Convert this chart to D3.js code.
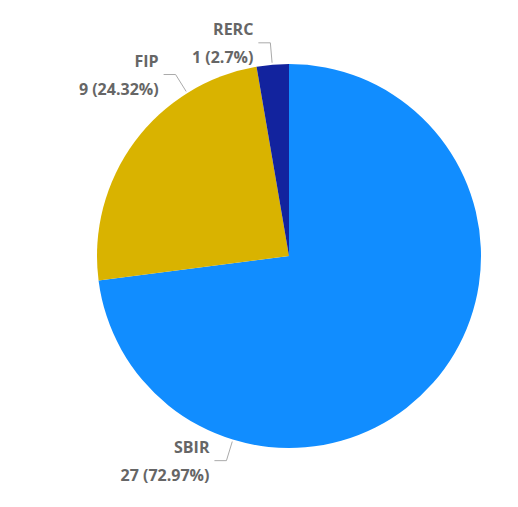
<!DOCTYPE html>
<html><head><meta charset="utf-8">
<script src="https://cdn.jsdelivr.net/npm/d3@7"></script>
<style>body{margin:0;background:#fff}</style>
</head><body><svg id="chart" width="518" height="507"></svg>
<script>
// data
var categories = ["SBIR", "FIP", "RERC"];
var counts = [27, 9, 1];
var percents = ["72.97%", "24.32%", "2.7%"];
var colors = ["#118DFF", "#D9B300", "#12239E"];
// leader anchor angle (degrees clockwise from top), chosen to avoid overlap
var labelAngles = [197, 328, 355];

var svg = d3.select("#chart");
var cx = 289, cy = 256, r = 192;
var g = svg.append("g").attr("transform", "translate(" + cx + "," + cy + ")");

var pie = d3.pie().sort(null).value(function(d){ return d; });
var arc = d3.arc().innerRadius(0).outerRadius(r);
var arcs = pie(counts);

g.selectAll("path.slice").data(arcs).enter().append("path")
    .attr("class", "slice")
    .attr("d", arc)
    .attr("fill", function(d, i){ return colors[i]; });

// labels with leader lines
arcs.forEach(function(d, i){
    var a = labelAngles[i] * Math.PI / 180;
    var p0 = [Math.sin(a) * (r + 2), -Math.cos(a) * (r + 2)];
    var p1 = [Math.sin(a) * (r + 22), -Math.cos(a) * (r + 22)];
    var p2 = [p1[0] - 12, p1[1]];
    g.append("polyline")
        .attr("points", [p0, p1, p2].map(function(p){ return p.join(","); }).join(" "))
        .attr("fill", "none").attr("stroke", "#aaa").attr("stroke-width", 1);
    var t = g.append("text")
        .attr("text-anchor", "end")
        .attr("font-family", "'Open Sans', sans-serif")
        .attr("font-weight", 700)
        .attr("font-size", 16)
        .attr("fill", "#666");
    t.append("tspan").attr("x", p2[0] - 5).attr("y", p2[1] - 8).text(categories[i]);
    t.append("tspan").attr("x", p2[0] - 5).attr("y", p2[1] + 20)
        .text(counts[i] + " (" + percents[i] + ")");
});
</script>
</body></html>
